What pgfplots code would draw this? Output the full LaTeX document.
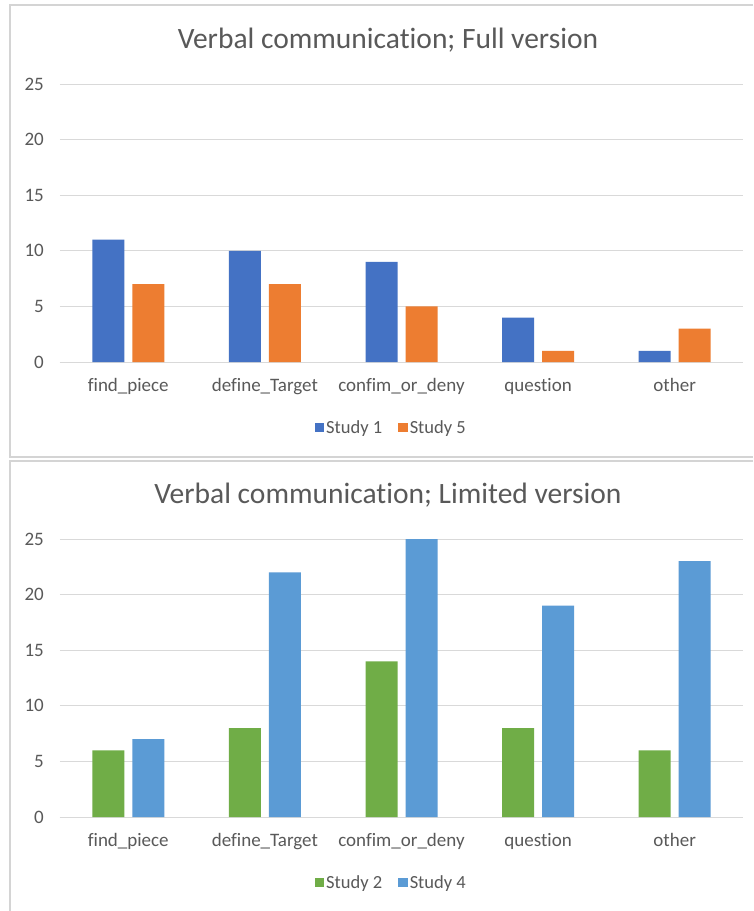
\documentclass[border=0pt]{standalone}
\usepackage{fontspec}
\setmainfont{Carlito}[Ligatures=NoCommon]
\usepackage{pgfplots}
\pgfplotsset{compat=1.18}

\definecolor{txt}{HTML}{595959}
\definecolor{gridc}{HTML}{D9D9D9}
\definecolor{framec}{HTML}{D4D4D4}
\definecolor{sOne}{HTML}{4472C4}
\definecolor{sFive}{HTML}{ED7D31}
\definecolor{sTwo}{HTML}{70AD47}
\definecolor{sFour}{HTML}{5B9BD5}

\pgfplotsset{
  excelbars/.style={
    scale only axis, width=683pt, height=278pt,
    anchor=south west,
    ymin=0, ymax=25, ytick={0,5,...,25},
    xmin=-0.5, xmax=4.5, xtick={0,...,4},
    xticklabels={find\_piece, define\_Target, confim\_or\_deny, question, other},
    ybar, bar width=32pt,
    axis x line*=bottom, axis y line*=left,
    y axis line style={draw=none},
    x axis line style={gridc, line width=1pt},
    major tick length=0pt,
    ymajorgrids, grid style={gridc, line width=1pt},
    /pgf/number format/assume math mode=true,
    tick label style={text=txt},
    yticklabel style={font=\fontsize{19}{21}\selectfont, anchor=east, inner sep=0pt, xshift=-16pt},
    xticklabel style={font=\fontsize{19}{21}\selectfont, anchor=base, inner sep=0pt, yshift=-29pt},
    every axis plot post/.append style={
      draw=none,
      legend image code/.code={\fill[##1] (-2pt,-4.5pt) rectangle (7.5pt,5pt);}},
    legend columns=2,
    legend style={at={(axis description cs:0.485,-0.237)}, anchor=center,
      draw=none, fill=none, text=txt, font=\fontsize{18.5}{20}\selectfont,
      /tikz/every even column/.append style={column sep=14pt},
      inner sep=0pt},
  }
}

\begin{document}
\begin{tikzpicture}
  \path[use as bounding box, fill=white] (0pt,0pt) rectangle (753pt,-911pt);

  % panel frames
  \draw[framec, line width=1.5pt] (753pt,-5pt) -- (10pt,-5pt) -- (10pt,-457pt) -- (753pt,-457pt);
  \draw[framec, line width=1.5pt] (753pt,-461pt) -- (10pt,-461pt) -- (10pt,-911pt);

  % titles
  \node[text=txt, font=\fontsize{29.5}{32}\selectfont] at (388pt,-40pt) {Verbal communication; Full version};
  \node[text=txt, font=\fontsize{29.5}{32}\selectfont] at (388pt,-495pt) {Verbal communication; Limited version};

  % full version
  \begin{axis}[excelbars, at={(60pt,-362pt)}]
    \addplot[fill=sOne, bar shift=-20pt] coordinates {(0,11) (1,10) (2,9) (3,4) (4,1)};
    \addplot[fill=sFive, bar shift=20pt] coordinates {(0,7) (1,7) (2,5) (3,1) (4,3)};
    \legend{Study 1, Study 5}
  \end{axis}

  % limited version
  \begin{axis}[excelbars, at={(60pt,-817pt)}]
    \addplot[fill=sTwo, bar shift=-20pt] coordinates {(0,6) (1,8) (2,14) (3,8) (4,6)};
    \addplot[fill=sFour, bar shift=20pt] coordinates {(0,7) (1,22) (2,25) (3,19) (4,23)};
    \legend{Study 2, Study 4}
  \end{axis}
\end{tikzpicture}
\end{document}
